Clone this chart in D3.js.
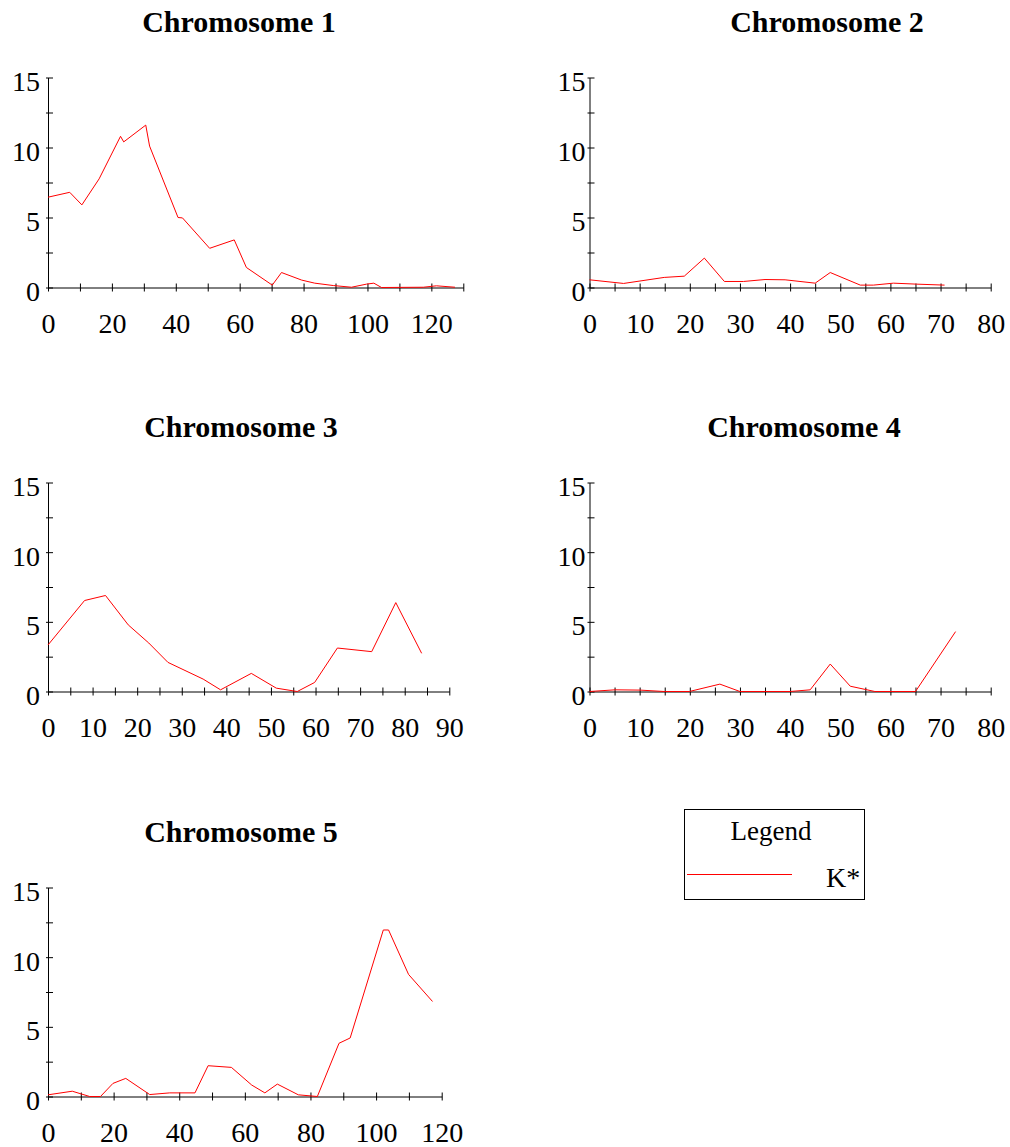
<!DOCTYPE html>
<html>
<head>
<meta charset="utf-8">
<script src="https://cdn.jsdelivr.net/npm/d3@7"></script>
<style>
  body { margin: 0; background: #fff; }
  text { font-family: "Liberation Serif", "Times New Roman", serif; fill: #000; }
</style>
</head>
<body>
<script>
// positions (cM) and K* values
const chr1Pos = [0, 6.8, 10.6, 16.0, 22.7, 23.7, 30.6, 31.8, 40.7, 42.1, 50.6, 58.3, 62.1, 70.2, 73.1, 79.4, 83.5, 89.3, 95.0, 99.7, 102.0, 104.4, 117.5, 121.6, 127.4];
const chr1K = [6.45, 6.8, 5.9, 7.76, 10.8, 10.4, 11.6, 10.1, 5.0, 4.97, 2.8, 3.4, 1.43, 0.17, 1.07, 0.53, 0.31, 0.14, 0.02, 0.24, 0.31, 0, 0.02, 0.12, 0.02];

const chr2Pos = [0, 6.8, 14.9, 18.9, 22.9, 26.9, 30.7, 35.0, 39.0, 45.0, 48.0, 54.0, 56.6, 60.6, 65.2, 70.8];
const chr2K = [0.55, 0.29, 0.72, 0.81, 2.1, 0.43, 0.43, 0.57, 0.55, 0.31, 1.07, 0.17, 0.17, 0.31, 0.24, 0.17];

const chr3Pos = [0, 8.2, 12.9, 18.0, 22.6, 26.9, 34.8, 38.7, 45.6, 51.2, 55.9, 59.8, 64.9, 72.6, 78.0, 83.8];
const chr3K = [3.34, 6.53, 6.89, 4.78, 3.48, 2.09, 0.89, 0.12, 1.30, 0.24, 0, 0.65, 3.12, 2.86, 6.38, 2.74];

const chr4Pos = [0, 5.1, 10.1, 14.9, 19.9, 26.0, 30.0, 40.0, 44.0, 48.0, 52.0, 56.9, 65.0, 73.0];
const chr4K = [0, 0.12, 0.1, 0, 0, 0.53, 0, 0, 0.12, 1.97, 0.38, 0, 0, 4.3];

const chr5Pos = [0, 7.4, 12.7, 16.0, 19.8, 23.7, 31.0, 37.1, 44.8, 48.8, 55.9, 62.1, 66.1, 69.9, 76.3, 82.1, 88.7, 92.1, 102.2, 103.8, 109.9, 117.2];
const chr5K = [0.12, 0.38, 0, 0, 0.94, 1.30, 0.14, 0.26, 0.26, 2.21, 2.09, 0.82, 0.26, 0.89, 0.12, 0, 3.82, 4.2, 11.95, 11.95, 8.76, 6.82];

const titles = ["Chromosome 1", "Chromosome 2", "Chromosome 3", "Chromosome 4", "Chromosome 5"];
const xMax = [130, 80, 90, 80, 120];
const xMinorStep = [10, 5, 5, 5, 10];
const xLabelStep = [20, 10, 10, 10, 20];
const yTicks = [0, 2.5, 5, 7.5, 10, 12.5, 15];
const yLabels = [0, 5, 10, 15];
const legendTitle = "Legend";
const seriesName = "K*";

const series = [[chr1Pos, chr1K], [chr2Pos, chr2K], [chr3Pos, chr3K], [chr4Pos, chr4K], [chr5Pos, chr5K]];

// panel frames: left edge, right edge, zero line, top (y=15), title centre / baseline
const frames = [
  { x0: 48, x1: 463.3, y0: 287.5, y1: 77.5, tx: 239, ty: 32, gap: 8 },
  { x0: 589.5, x1: 990.7, y0: 287.5, y1: 77.5, tx: 827, ty: 32, gap: 4 },
  { x0: 48, x1: 449.3, y0: 691.5, y1: 482.5, tx: 241, ty: 437, gap: 8 },
  { x0: 589.5, x1: 990.7, y0: 691.5, y1: 482.5, tx: 804, ty: 437, gap: 4 },
  { x0: 48, x1: 441.7, y0: 1096.5, y1: 887.5, tx: 241, ty: 842, gap: 8 }
];

const svg = d3.select("body").append("svg")
  .attr("width", 1010)
  .attr("height", 1147);

frames.forEach((f, i) => {
  let x = d3.scaleLinear().domain([0, xMax[i]]).range([f.x0, f.x1]);
  let y = d3.scaleLinear().domain([0, 15]).range([f.y0, f.y1]);

  svg.append("text")
    .attr("x", f.tx)
    .attr("y", f.ty)
    .attr("text-anchor", "middle")
    .style("font-size", "30px")
    .style("font-weight", "bold")
    .text(titles[i]);

  let gx = svg.append("g")
    .attr("transform", `translate(0,${f.y0})`)
    .call(d3.axisBottom(x)
      .tickValues(d3.range(0, xMax[i] + 0.001, xMinorStep[i]))
      .tickSizeInner(4)
      .tickSizeOuter(0)
      .tickFormat(d => d % xLabelStep[i] === 0 ? d : ""));
  gx.selectAll(".tick line").attr("y1", -4).attr("stroke", "#000");
  gx.select(".domain").attr("stroke", "#000");
  gx.selectAll(".tick text")
    .attr("y", 45)
    .attr("dy", null)
    .style("font-size", "28px")
    .style("font-family", "Liberation Serif, serif");

  let gy = svg.append("g")
    .attr("transform", `translate(${f.x0},0)`)
    .call(d3.axisLeft(y)
      .tickValues(yTicks)
      .tickSizeInner(2)
      .tickSizeOuter(0)
      .tickFormat(d => yLabels.includes(d) ? d : ""));
  gy.selectAll(".tick line").attr("x2", 5).attr("x1", -2).attr("stroke", "#000");
  gy.select(".domain").attr("stroke", "#000");
  gy.selectAll(".tick text")
    .attr("x", -f.gap)
    .attr("y", 13)
    .attr("dy", null)
    .style("font-size", "28px")
    .style("font-family", "Liberation Serif, serif");

  let line = d3.line()
    .x((d, k) => x(series[i][0][k]))
    .y(d => y(d));

  svg.append("path")
    .datum(series[i][1])
    .attr("d", line)
    .attr("fill", "none")
    .attr("stroke", "#ff0000")
    .attr("stroke-width", 1);
});

// legend
let lg = svg.append("g");
lg.append("rect")
  .attr("x", 684.5).attr("y", 809.5)
  .attr("width", 180).attr("height", 90)
  .attr("fill", "none").attr("stroke", "#000");
lg.append("text")
  .attr("x", 771).attr("y", 840)
  .attr("text-anchor", "middle")
  .style("font-size", "27px")
  .text(legendTitle);
lg.append("line")
  .attr("x1", 687).attr("x2", 792)
  .attr("y1", 874.5).attr("y2", 874.5)
  .attr("stroke", "#ff0000");
lg.append("text")
  .attr("x", 826).attr("y", 887)
  .style("font-size", "28px")
  .text(seriesName);
</script>
</body>
</html>
